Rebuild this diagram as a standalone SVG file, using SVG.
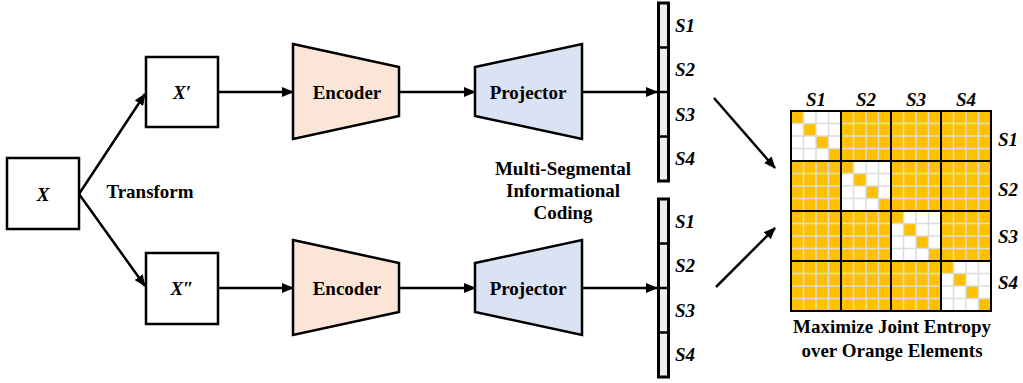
<svg xmlns="http://www.w3.org/2000/svg" width="1023" height="383" viewBox="0 0 1023 383">
<defs>
<marker id="ah" markerUnits="userSpaceOnUse" markerWidth="12" markerHeight="10" refX="11" refY="5" orient="auto">
<path d="M0,0 L12,5 L0,10 z" fill="#000"/>
</marker>
<style>
.box{fill:#fff;stroke:#000;stroke-width:2.5}
.enc{fill:#FBE5D6;stroke:#000;stroke-width:2.5}
.proj{fill:#DAE3F3;stroke:#000;stroke-width:2.5}
.bar{fill:#EDEDED;stroke:#000;stroke-width:3}
.conn{fill:none;stroke:#000;stroke-width:2.5}
.t{font-family:"Liberation Serif","Times New Roman",serif;font-weight:bold;font-size:19px;fill:#000;text-anchor:middle}
.it{font-family:"Liberation Serif","Times New Roman",serif;font-weight:bold;font-style:italic;font-size:19px;fill:#000}
.grid{stroke:#DCDCDC;stroke-width:1.5;fill:none}
.blk{stroke:#000;stroke-width:2;fill:none}
.or{fill:#FFC000}
</style>
</defs>

<g id="connectors">
<line class="conn" x1="79" y1="194" x2="145" y2="94" marker-end="url(#ah)"/>
<line class="conn" x1="79" y1="194" x2="145" y2="286" marker-end="url(#ah)"/>
<line class="conn" x1="218" y1="92" x2="293" y2="92" marker-end="url(#ah)"/>
<line class="conn" x1="218" y1="288" x2="293" y2="288" marker-end="url(#ah)"/>
<line class="conn" x1="399" y1="92" x2="475" y2="92" marker-end="url(#ah)"/>
<line class="conn" x1="399" y1="288" x2="475" y2="288" marker-end="url(#ah)"/>
<line class="conn" x1="582" y1="92" x2="657" y2="92" marker-end="url(#ah)"/>
<line class="conn" x1="582" y1="288" x2="657" y2="288" marker-end="url(#ah)"/>
<line class="conn" x1="714" y1="98" x2="775" y2="168" marker-end="url(#ah)"/>
<line class="conn" x1="716" y1="287" x2="775" y2="228" marker-end="url(#ah)"/>
</g>

<g id="node-x">
<rect class="box" x="7" y="158" width="72" height="71"/>
<text class="it" x="43" y="201" text-anchor="middle">X</text>
</g>
<text class="t" x="150" y="198" font-size="18">Transform</text>

<g id="node-x1">
<rect class="box" x="146" y="57" width="72" height="70"/>
<text class="it" x="182" y="99" text-anchor="middle">X′</text>
</g>
<g id="node-x2">
<rect class="box" x="146" y="253" width="72" height="71"/>
<text class="it" x="182" y="295" text-anchor="middle">X″</text>
</g>

<g id="encoder1">
<polygon class="enc" points="293,44 399,67 399,116 293,139"/>
<text class="t" x="347" y="99">Encoder</text>
</g>
<g id="encoder2">
<polygon class="enc" points="293,240 399,263 399,312 293,335"/>
<text class="t" x="347" y="295">Encoder</text>
</g>
<g id="projector1">
<polygon class="proj" points="475,67 582,44 582,139 475,116"/>
<text class="t" x="528" y="99">Projector</text>
</g>
<g id="projector2">
<polygon class="proj" points="475,263 582,240 582,335 475,312"/>
<text class="t" x="528" y="295">Projector</text>
</g>

<g id="coding-label">
<text class="t" x="563" y="175">Multi-Segmental</text>
<text class="t" x="563" y="197">Informational</text>
<text class="t" x="563" y="219">Coding</text>
</g>

<g id="vector1">
<rect class="bar" x="658.5" y="3" width="10" height="178"/>
<line class="conn" stroke-width="3" x1="658" y1="47.5" x2="669" y2="47.5"/>
<line class="conn" stroke-width="3" x1="658" y1="92" x2="669" y2="92"/>
<line class="conn" stroke-width="3" x1="658" y1="136.5" x2="669" y2="136.5"/>
<text class="it" x="675" y="32">S1</text>
<text class="it" x="675" y="76">S2</text>
<text class="it" x="675" y="121">S3</text>
<text class="it" x="675" y="165">S4</text>
</g>
<g id="vector2">
<rect class="bar" x="658.5" y="199" width="10" height="178"/>
<line class="conn" stroke-width="3" x1="658" y1="243.5" x2="669" y2="243.5"/>
<line class="conn" stroke-width="3" x1="658" y1="288" x2="669" y2="288"/>
<line class="conn" stroke-width="3" x1="658" y1="332.5" x2="669" y2="332.5"/>
<text class="it" x="675" y="228">S1</text>
<text class="it" x="675" y="272">S2</text>
<text class="it" x="675" y="317">S3</text>
<text class="it" x="675" y="361">S4</text>
</g>

<g id="matrix">
<rect class="or" x="791" y="111" width="200" height="200"/>
<rect fill="#fff" x="791" y="111" width="50" height="50"/>
<rect fill="#fff" x="841" y="161" width="50" height="50"/>
<rect fill="#fff" x="891" y="211" width="50" height="50"/>
<rect fill="#fff" x="941" y="261" width="50" height="50"/>
<rect class="or" x="791" y="111" width="12.5" height="12.5"/>
<rect class="or" x="803.5" y="123.5" width="12.5" height="12.5"/>
<rect class="or" x="816" y="136" width="12.5" height="12.5"/>
<rect class="or" x="828.5" y="148.5" width="12.5" height="12.5"/>
<rect class="or" x="841" y="161" width="12.5" height="12.5"/>
<rect class="or" x="853.5" y="173.5" width="12.5" height="12.5"/>
<rect class="or" x="866" y="186" width="12.5" height="12.5"/>
<rect class="or" x="878.5" y="198.5" width="12.5" height="12.5"/>
<rect class="or" x="891" y="211" width="12.5" height="12.5"/>
<rect class="or" x="903.5" y="223.5" width="12.5" height="12.5"/>
<rect class="or" x="916" y="236" width="12.5" height="12.5"/>
<rect class="or" x="928.5" y="248.5" width="12.5" height="12.5"/>
<rect class="or" x="941" y="261" width="12.5" height="12.5"/>
<rect class="or" x="953.5" y="273.5" width="12.5" height="12.5"/>
<rect class="or" x="966" y="286" width="12.5" height="12.5"/>
<rect class="or" x="978.5" y="298.5" width="12.5" height="12.5"/>
<path class="grid" d="M803.5,111V311M816,111V311M828.5,111V311M853.5,111V311M866,111V311M878.5,111V311M903.5,111V311M916,111V311M928.5,111V311M953.5,111V311M966,111V311M978.5,111V311M791,123.5H991M791,136H991M791,148.5H991M791,173.5H991M791,186H991M791,198.5H991M791,223.5H991M791,236H991M791,248.5H991M791,273.5H991M791,286H991M791,298.5H991"/>
<path class="blk" d="M841,111V311M891,111V311M941,111V311M791,161H991M791,211H991M791,261H991"/>
<rect class="blk" x="791" y="111" width="200" height="200"/>
<text class="it" x="816" y="106" text-anchor="middle">S1</text>
<text class="it" x="866" y="106" text-anchor="middle">S2</text>
<text class="it" x="916" y="106" text-anchor="middle">S3</text>
<text class="it" x="966" y="106" text-anchor="middle">S4</text>
<text class="it" x="1008" y="146" text-anchor="middle">S1</text>
<text class="it" x="1008" y="196" text-anchor="middle">S2</text>
<text class="it" x="1008" y="243" text-anchor="middle">S3</text>
<text class="it" x="1008" y="289" text-anchor="middle">S4</text>
</g>

<g id="matrix-label">
<text class="t" x="892" y="333">Maximize Joint Entropy</text>
<text class="t" x="892" y="357">over Orange Elements</text>
</g>
</svg>
